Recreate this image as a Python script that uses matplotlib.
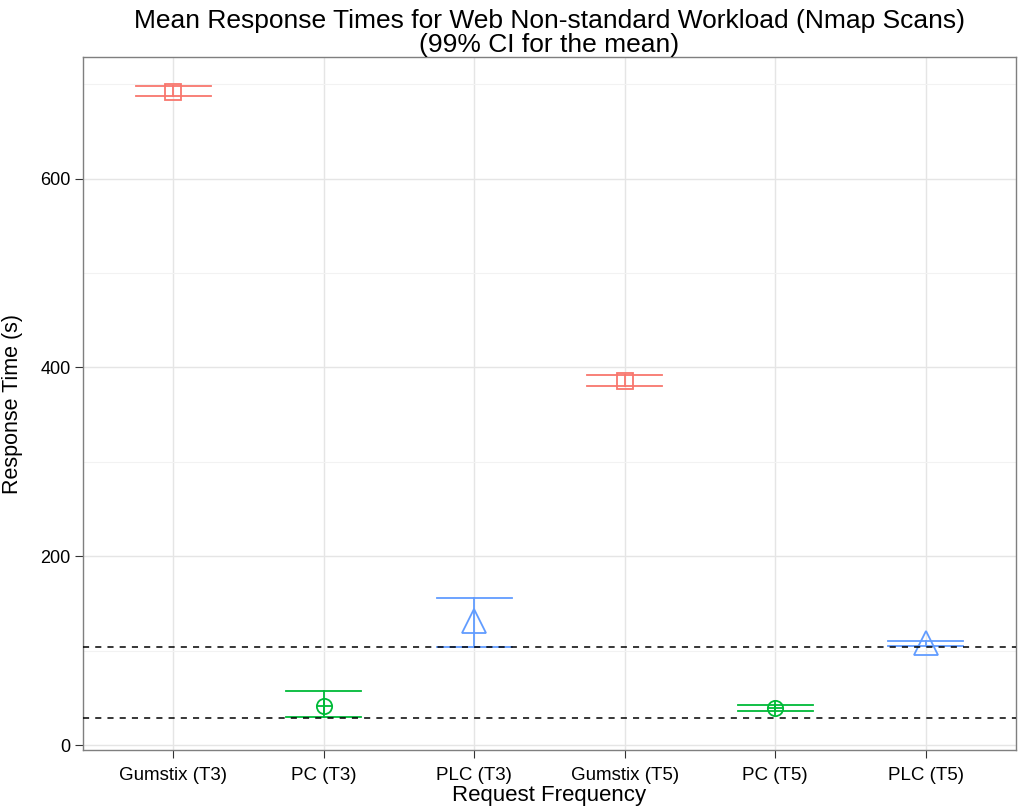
import matplotlib
matplotlib.use("Agg")
import matplotlib.pyplot as plt
from matplotlib.ticker import MultipleLocator

categories = ["Gumstix (T3)", "PC (T3)", "PLC (T3)", "Gumstix (T5)", "PC (T5)", "PLC (T5)"]
means = [692, 41, 131, 386, 39, 108]
lower = [688, 30, 104, 380, 36, 105]
upper = [698, 57, 156, 392, 42, 110]
devices = ["Gumstix", "PC", "PLC", "Gumstix", "PC", "PLC"]
hlines = [104, 29]

colors = {"Gumstix": "#F8766D", "PC": "#00BA38", "PLC": "#619CFF"}
markers = {"Gumstix": "s", "PC": "o", "PLC": "^"}
msizes = {"Gumstix": 12, "PC": 11, "PLC": 17}

plt.rcParams['font.family'] = ['Liberation Sans', 'DejaVu Sans']
fig = plt.figure(figsize=(10.29, 8.07), dpi=100)
ax = fig.add_axes([0.0807, 0.0706, 0.9067, 0.8588])

xs = list(range(1, len(categories) + 1))
hw = 0.25
for x, m, lo, hi, d in zip(xs, means, lower, upper, devices):
    c = colors[d]
    ax.plot([x - hw, x + hw], [hi, hi], color=c, lw=1.3, zorder=3)
    ax.plot([x - hw, x + hw], [lo, lo], color=c, lw=1.3, zorder=3)
    ax.plot([x, x], [lo, hi], color=c, lw=1.3, zorder=3)
    ax.plot([x], [m], marker=markers[d], ms=msizes[d], mfc='none', mec=c, mew=1.3, ls='none', zorder=4)
    if d == "PC":
        ax.plot([x], [m], marker='+', ms=11, mec=c, mew=1.3, ls='none', zorder=4)

for h in hlines:
    ax.axhline(h, color='black', ls=(0, (4, 4)), lw=1.1, zorder=5)

ax.set_xlim(0.4, 6.6)
ax.set_ylim(-5.3, 729)
ax.set_xticks(xs)
ax.set_xticklabels(categories, fontsize=13.5)
ax.yaxis.set_major_locator(MultipleLocator(200))
ax.yaxis.set_minor_locator(MultipleLocator(100))
ax.tick_params(axis='y', labelsize=13, length=6, color='#333333', pad=3)
ax.tick_params(axis='x', length=6, color='#333333', pad=6)
ax.tick_params(axis='y', which='minor', length=0)
ax.grid(True, which='major', color='#E5E5E5', lw=1.0, zorder=0)
ax.grid(True, which='minor', axis='y', color='#F2F2F2', lw=0.8, zorder=0)
ax.set_axisbelow(True)
for s in ax.spines.values():
    s.set_color('#7F7F7F')
    s.set_linewidth(1.0)

ax.set_xlabel("Request Frequency", fontsize=16, labelpad=1)
ax.set_ylabel("Response Time (s)", fontsize=15.5, labelpad=12)
ax.set_title("Mean Response Times for Web Non-standard Workload (Nmap Scans)\n(99% CI for the mean)",
             fontsize=19, linespacing=1.0, pad=1)

fig.savefig("out.png", dpi=100)
